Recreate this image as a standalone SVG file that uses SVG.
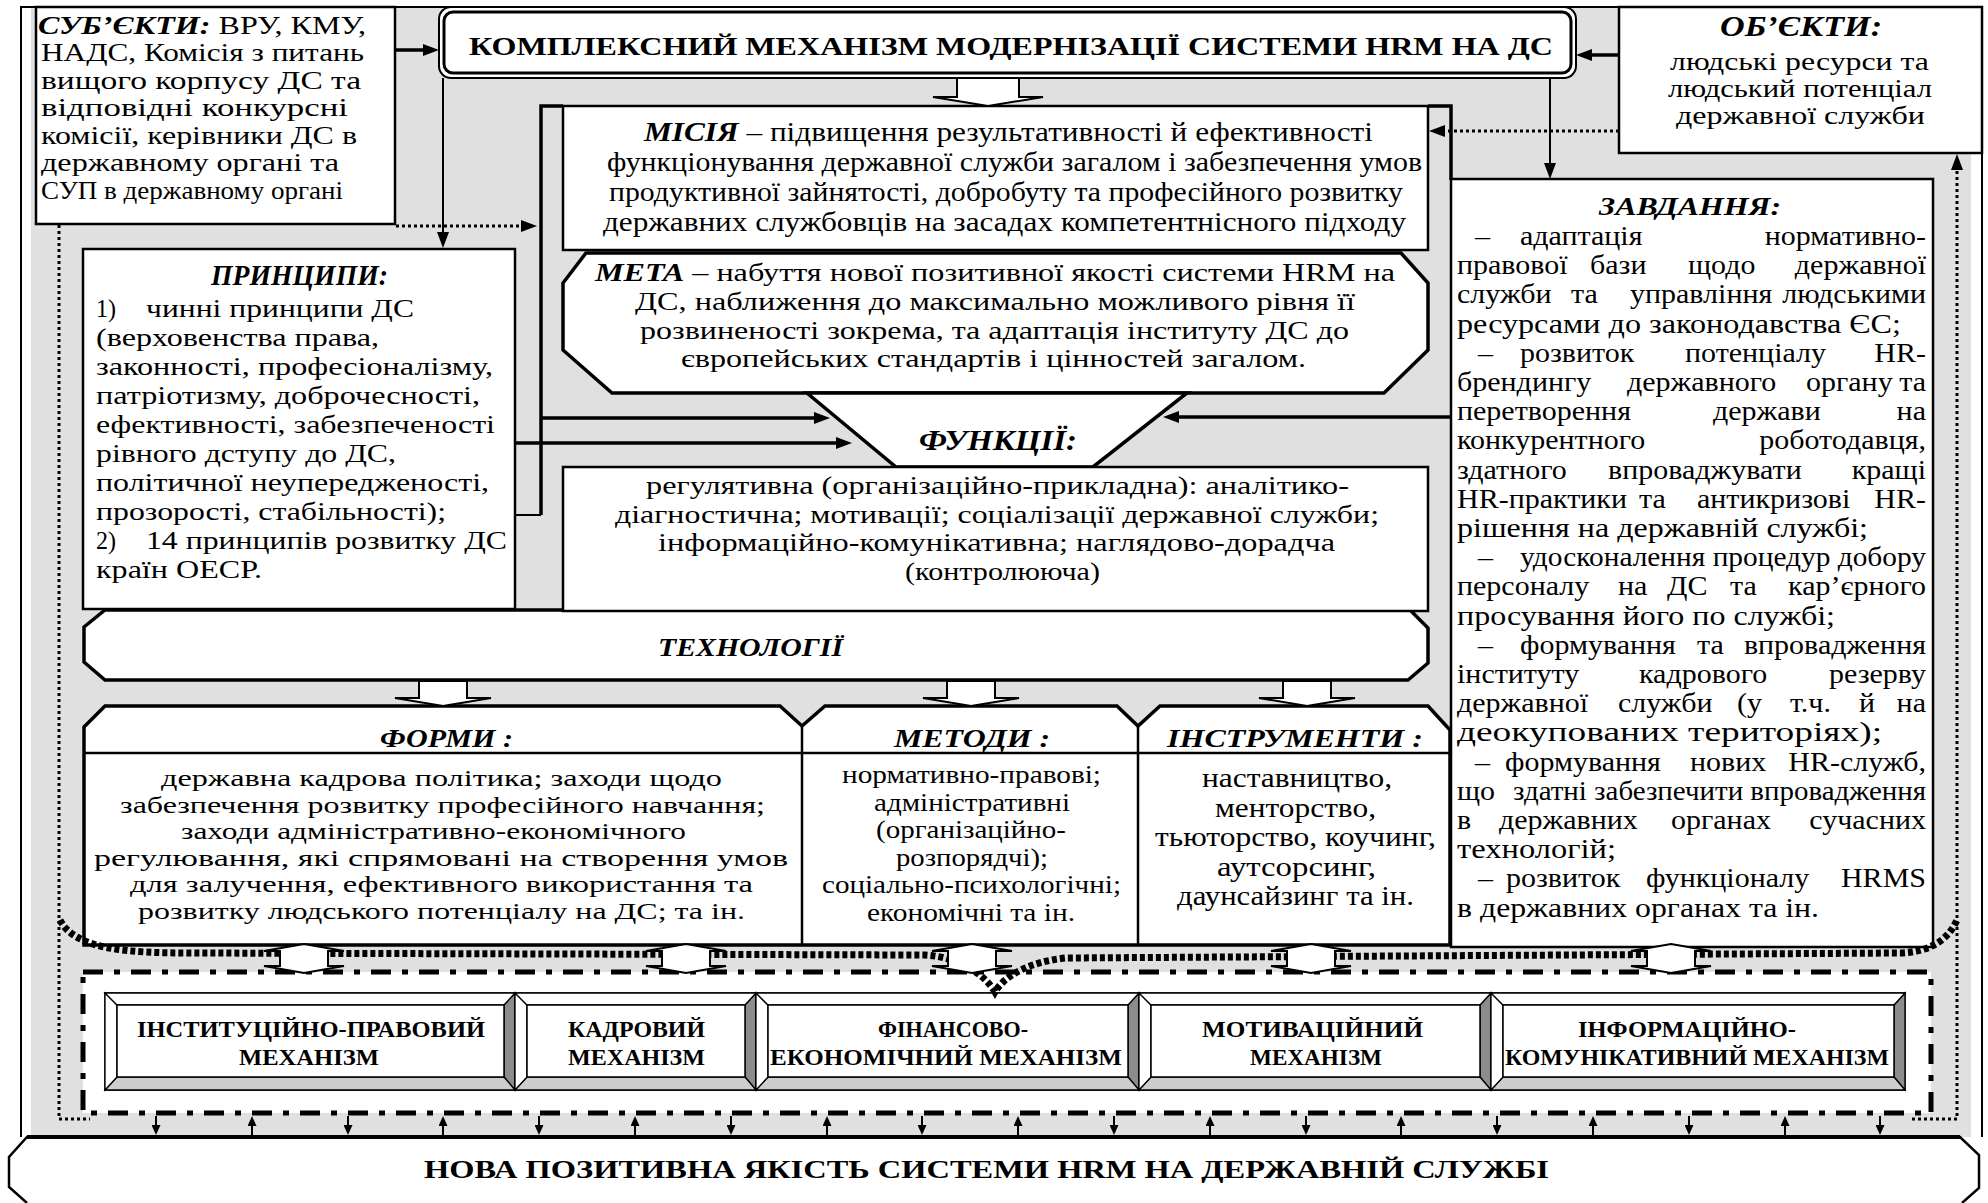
<svg xmlns="http://www.w3.org/2000/svg" width="1988" height="1203" viewBox="0 0 1988 1203">
<defs>
<style>
text{font-family:"Liberation Serif","Times New Roman",serif;font-size:26px;fill:#000}
.b{font-weight:700}
.bi{font-weight:700;font-style:italic}
.hd{font-size:30px;font-weight:700;font-style:italic}
.sb{font-size:24.8px}
.ms{font-size:27px}
.mt{font-size:26px}
.fn{font-size:25.9px}
.pr{font-size:26px}
.zv{font-size:26.3px}
.fm{font-size:23.9px}
.md{font-size:24.8px}
.in{font-size:26.6px}
.k{font-size:24px;font-weight:700}
.box{fill:#fff;stroke:#000;stroke-width:2.5}
.hv{fill:#fff;stroke:#000;stroke-width:3.5;stroke-linejoin:miter}
.ln{fill:none;stroke:#000;stroke-width:3.5}
.sep{fill:none;stroke:#000;stroke-width:2.5}
.th{fill:none;stroke:#000;stroke-width:2}
.dt{fill:none;stroke:#000;stroke-width:3;stroke-dasharray:3 3}
.bd{fill:none;stroke:#000;stroke-width:7;stroke-dasharray:5 3}
.ba{fill:#fff;stroke:#000;stroke-width:2;stroke-linejoin:miter}
.sa{fill:none;stroke:#000;stroke-width:2}
.bv{stroke:#000;stroke-width:1.3}
.face{fill:#fff;stroke:#000;stroke-width:1.5}
</style>
<marker id="ah" markerUnits="userSpaceOnUse" markerWidth="16" markerHeight="12" refX="1" refY="6" orient="auto"><path d="M0,0 L16,6 L0,12 Z" fill="#000"/></marker>
<marker id="as" markerUnits="userSpaceOnUse" markerWidth="10" markerHeight="9" refX="1" refY="4.5" orient="auto"><path d="M0,0 L10,4.5 L0,9 Z" fill="#000"/></marker>
</defs>

<g id="background">
<rect x="0" y="0" width="1988" height="1203" fill="#fff"/>
<rect x="31" y="8" width="1940" height="1129" fill="#e0e0e0"/>
<path d="M21,1137 L21,7 L1982,7 L1982,1137" fill="none" stroke="#000" stroke-width="2"/>
</g>

<g id="technologies">
<path class="hv" d="M105,610 L1410,610 L1428,628 L1428,663 L1408,680 L105,680 L84,662 L84,627 Z"/>
<text class="bi" x="658" y="656" font-size="31" textLength="185" lengthAdjust="spacingAndGlyphs">ТЕХНОЛОГІЇ</text>
</g>

<g id="subjects">
<rect class="box" x="36" y="7" width="359" height="217"/>
<text class="sb" x="38" y="33.5" textLength="328" lengthAdjust="spacingAndGlyphs"><tspan class="bi">СУБ’ЄКТИ:</tspan> ВРУ, КМУ,</text>
<text class="sb" x="41" y="61" textLength="323" lengthAdjust="spacingAndGlyphs">НАДС, Комісія з питань</text>
<text class="sb" x="41" y="88.5" textLength="320" lengthAdjust="spacingAndGlyphs">вищого корпусу ДС та</text>
<text class="sb" x="41" y="116" textLength="307" lengthAdjust="spacingAndGlyphs">відповідні конкурсні</text>
<text class="sb" x="41" y="143.5" textLength="316" lengthAdjust="spacingAndGlyphs">комісії, керівники ДС в</text>
<text class="sb" x="41" y="171" textLength="298" lengthAdjust="spacingAndGlyphs">державному органі та</text>
<text class="sb" x="41" y="198.5" textLength="302" lengthAdjust="spacingAndGlyphs">СУП в державному органі</text>
</g>

<g id="objects">
<rect class="box" x="1619" y="7" width="363" height="146"/>
<text class="hd" x="1720" y="36" textLength="162" lengthAdjust="spacingAndGlyphs">ОБ’ЄКТИ:</text>
<text class="sb" x="1670" y="70" textLength="259" lengthAdjust="spacingAndGlyphs">людські ресурси та</text>
<text class="sb" x="1668" y="97" textLength="264" lengthAdjust="spacingAndGlyphs">людський потенціал</text>
<text class="sb" x="1676" y="124" textLength="249" lengthAdjust="spacingAndGlyphs">державної служби</text>
</g>

<g id="title">
<rect x="439" y="7" width="1137" height="71" rx="12" fill="#fff" stroke="#000" stroke-width="2"/>
<rect x="444" y="12" width="1127" height="61" rx="9" fill="#fff" stroke="#000" stroke-width="3"/>
<text class="b" x="469" y="55" font-size="31" textLength="1084" lengthAdjust="spacingAndGlyphs">КОМПЛЕКСНИЙ МЕХАНІЗМ МОДЕРНІЗАЦІЇ СИСТЕМИ HRM НА ДС</text>
</g>

<g id="mission">
<rect class="box" x="563" y="106" width="865" height="144"/>
<text class="ms" x="644" y="141" textLength="729" lengthAdjust="spacingAndGlyphs"><tspan class="bi">МІСІЯ</tspan> – підвищення результативності й ефективності</text>
<text class="ms" x="607" y="171" textLength="815" lengthAdjust="spacingAndGlyphs">функціонування державної служби загалом і забезпечення умов</text>
<text class="ms" x="609" y="201" textLength="794" lengthAdjust="spacingAndGlyphs">продуктивної зайнятості, добробуту та професійного розвитку</text>
<text class="ms" x="603" y="231" textLength="803" lengthAdjust="spacingAndGlyphs">державних службовців на засадах компетентнісного підходу</text>
</g>

<g id="goal">
<path class="hv" d="M586,253 L1401,253 L1428,283 L1428,350 L1384,393 L612,393 L563,350 L563,283 Z"/>
<text class="mt" x="595" y="281" textLength="800" lengthAdjust="spacingAndGlyphs"><tspan class="bi">МЕТА</tspan> – набуття нової позитивної якості системи HRM на</text>
<text class="mt" x="635" y="310" textLength="720" lengthAdjust="spacingAndGlyphs">ДС, наближення до максимально можливого рівня її</text>
<text class="mt" x="640" y="339" textLength="709" lengthAdjust="spacingAndGlyphs">розвиненості зокрема, та адаптація інституту ДС до</text>
<text class="mt" x="681" y="367" textLength="625" lengthAdjust="spacingAndGlyphs">європейських стандартів і цінностей загалом.</text>
</g>

<g id="functions">
<path class="hv" d="M807,393 L1187,393 L1093,467 L896,467 Z"/>
<text class="hd" x="919" y="450" textLength="158" lengthAdjust="spacingAndGlyphs">ФУНКЦІЇ:</text>
<rect class="box" x="563" y="467" width="865" height="144"/>
<text class="fn" x="646" y="494" textLength="703" lengthAdjust="spacingAndGlyphs">регулятивна (організаційно-прикладна): аналітико-</text>
<text class="fn" x="615" y="522.5" textLength="764" lengthAdjust="spacingAndGlyphs">діагностична; мотивації; соціалізації державної служби;</text>
<text class="fn" x="658" y="551" textLength="677" lengthAdjust="spacingAndGlyphs">інформаційно-комунікативна; наглядово-дорадча</text>
<text class="fn" x="905" y="580" textLength="195" lengthAdjust="spacingAndGlyphs">(контролююча)</text>
</g>

<g id="principles">
<rect class="box" x="83" y="249" width="432" height="360"/>
<text class="hd" x="211" y="285" textLength="177" lengthAdjust="spacingAndGlyphs">ПРИНЦИПИ:</text>
<text class="pr" x="96" y="317" textLength="20" lengthAdjust="spacingAndGlyphs">1)</text>
<text class="pr" x="146" y="317" textLength="268" lengthAdjust="spacingAndGlyphs">чинні принципи ДС</text>
<text class="pr" x="96" y="346" textLength="283" lengthAdjust="spacingAndGlyphs">(верховенства права,</text>
<text class="pr" x="96" y="375" textLength="397" lengthAdjust="spacingAndGlyphs">законності, професіоналізму,</text>
<text class="pr" x="96" y="404" textLength="384" lengthAdjust="spacingAndGlyphs">патріотизму, доброчесності,</text>
<text class="pr" x="96" y="433" textLength="399" lengthAdjust="spacingAndGlyphs">ефективності, забезпеченості</text>
<text class="pr" x="96" y="462" textLength="300" lengthAdjust="spacingAndGlyphs">рівного дступу до ДС,</text>
<text class="pr" x="96" y="491" textLength="393" lengthAdjust="spacingAndGlyphs">політичної неупередженості,</text>
<text class="pr" x="96" y="520" textLength="350" lengthAdjust="spacingAndGlyphs">прозорості, стабільності);</text>
<text class="pr" x="96" y="549" textLength="20" lengthAdjust="spacingAndGlyphs">2)</text>
<text class="pr" x="146" y="549" textLength="361" lengthAdjust="spacingAndGlyphs">14 принципів розвитку ДС</text>
<text class="pr" x="96" y="578" textLength="166" lengthAdjust="spacingAndGlyphs">країн ОЕСР.</text>
</g>

<g id="tasks">
<rect class="box" x="1451" y="179" width="482" height="768"/>
<text class="bi" x="1599" y="215" font-size="31" textLength="182" lengthAdjust="spacingAndGlyphs">ЗАВДАННЯ:</text>
<g transform="matrix(1.1407 0 0 1 1457 0)">
<text class="zv" y="245"><tspan x="15.78">–</tspan><tspan x="55.23">адаптація</tspan><tspan x="411.15" text-anchor="end">нормативно-</tspan></text>
<text class="zv" y="274.2"><tspan x="0">правової</tspan><tspan x="116.6">бази</tspan><tspan x="202.5">щодо</tspan><tspan x="411.15" text-anchor="end">державної</tspan></text>
<text class="zv" y="303.4"><tspan x="0">служби</tspan><tspan x="99.94">та</tspan><tspan x="151.66">управління</tspan><tspan x="411.15" text-anchor="end">людськими</tspan></text>
<text class="zv" x="0" y="332.6" textLength="389.2" lengthAdjust="spacingAndGlyphs">ресурсами до законодавства ЄС;</text>
<text class="zv" y="361.8"><tspan x="18.41">–</tspan><tspan x="55.23">розвиток</tspan><tspan x="199.88">потенціалу</tspan><tspan x="411.15" text-anchor="end">HR-</tspan></text>
<text class="zv" y="391"><tspan x="0">брендингу</tspan><tspan x="149.03">державного</tspan><tspan x="305.95">органу</tspan><tspan x="411.15" text-anchor="end">та</tspan></text>
<text class="zv" y="420.2"><tspan x="0">перетворення</tspan><tspan x="224.42">держави</tspan><tspan x="411.15" text-anchor="end">на</tspan></text>
<text class="zv" y="449.4"><tspan x="0">конкурентного</tspan><tspan x="411.15" text-anchor="end">роботодавця,</tspan></text>
<text class="zv" y="478.6"><tspan x="0">здатного</tspan><tspan x="132.37">впроваджувати</tspan><tspan x="411.15" text-anchor="end">кращі</tspan></text>
<text class="zv" y="507.8"><tspan x="0">HR-практики</tspan><tspan x="159.55">та</tspan><tspan x="210.4">антикризові</tspan><tspan x="411.15" text-anchor="end">HR-</tspan></text>
<text class="zv" x="0" y="537" textLength="360.3" lengthAdjust="spacingAndGlyphs">рішення на державній службі;</text>
<text class="zv" x="18.41" y="566.2">–</text>
<text class="zv" x="55.23" y="566.2" textLength="355.9" lengthAdjust="spacingAndGlyphs">удосконалення процедур добору</text>
<text class="zv" y="595.4"><tspan x="0">персоналу</tspan><tspan x="141.14">на</tspan><tspan x="184.1">ДС</tspan><tspan x="239.33">та</tspan><tspan x="411.15" text-anchor="end">кар’єрного</tspan></text>
<text class="zv" x="0" y="624.6" textLength="331.4" lengthAdjust="spacingAndGlyphs">просування його по службі;</text>
<text class="zv" y="653.8"><tspan x="18.41">–</tspan><tspan x="55.23">формування</tspan><tspan x="210.4">та</tspan><tspan x="411.15" text-anchor="end">впровадження</tspan></text>
<text class="zv" y="683"><tspan x="0">інституту</tspan><tspan x="159.55">кадрового</tspan><tspan x="411.15" text-anchor="end">резерву</tspan></text>
<text class="zv" y="712.2"><tspan x="0">державної</tspan><tspan x="141.14">служби</tspan><tspan x="245.46">(у</tspan><tspan x="291.93">т.ч.</tspan><tspan x="352.42">й</tspan><tspan x="411.15" text-anchor="end">на</tspan></text>
<text class="zv" x="0" y="741.4" textLength="372.6" lengthAdjust="spacingAndGlyphs">деокупованих територіях);</text>
<text class="zv" y="770.6"><tspan x="15.78">–</tspan><tspan x="42.08">формування</tspan><tspan x="204.26">нових</tspan><tspan x="411.15" text-anchor="end">HR-служб,</tspan></text>
<text class="zv" x="0" y="799.8">що</text>
<text class="zv" x="49.09" y="799.8" textLength="362.1" lengthAdjust="spacingAndGlyphs">здатні забезпечити впровадження</text>
<text class="zv" y="829"><tspan x="0">в</tspan><tspan x="36.82">державних</tspan><tspan x="187.6">органах</tspan><tspan x="411.15" text-anchor="end">сучасних</tspan></text>
<text class="zv" x="0" y="858.2" textLength="139.4" lengthAdjust="spacingAndGlyphs">технологій;</text>
<text class="zv" y="887.4"><tspan x="18.41">–</tspan><tspan x="42.96">розвиток</tspan><tspan x="165.69">функціоналу</tspan><tspan x="411.15" text-anchor="end">HRMS</tspan></text>
<text class="zv" x="0" y="916.6" textLength="317.4" lengthAdjust="spacingAndGlyphs">в державних органах та ін.</text>
</g>
</g>

<g id="forms-methods-tools">
<path class="hv" d="M84,945 L84,727 L105,706 L780,706 L802,726 L825,706 L1117,706 L1138,726 L1160,706 L1428,706 L1450,730 L1450,945 Z"/>
<path class="sep" d="M84,753 L1450,753 M802,726 L802,945 M1138,726 L1138,945"/>
<text class="bi" x="380" y="747" font-size="30" textLength="133" lengthAdjust="spacingAndGlyphs">ФОРМИ :</text>
<text class="bi" x="894" y="747" font-size="30" textLength="156" lengthAdjust="spacingAndGlyphs">МЕТОДИ :</text>
<text class="bi" x="1167" y="747" font-size="30" textLength="256" lengthAdjust="spacingAndGlyphs">ІНСТРУМЕНТИ :</text>
<text class="fm" x="161" y="786" textLength="561" lengthAdjust="spacingAndGlyphs">державна кадрова політика; заходи щодо</text>
<text class="fm" x="120" y="812.5" textLength="645" lengthAdjust="spacingAndGlyphs">забезпечення розвитку професійного навчання;</text>
<text class="fm" x="181" y="839" textLength="505" lengthAdjust="spacingAndGlyphs">заходи адміністративно-економічного</text>
<text class="fm" x="94" y="865.5" textLength="694" lengthAdjust="spacingAndGlyphs">регулювання, які спрямовані на створення умов</text>
<text class="fm" x="130" y="892" textLength="623" lengthAdjust="spacingAndGlyphs">для залучення, ефективного використання та</text>
<text class="fm" x="138" y="918.5" textLength="607" lengthAdjust="spacingAndGlyphs">розвитку людського потенціалу на ДС; та ін.</text>
<text class="md" x="842" y="783" textLength="259" lengthAdjust="spacingAndGlyphs">нормативно-правові;</text>
<text class="md" x="874" y="810.5" textLength="196" lengthAdjust="spacingAndGlyphs">адміністративні</text>
<text class="md" x="876" y="838" textLength="190" lengthAdjust="spacingAndGlyphs">(організаційно-</text>
<text class="md" x="896" y="865.5" textLength="152" lengthAdjust="spacingAndGlyphs">розпорядчі);</text>
<text class="md" x="822" y="893" textLength="299" lengthAdjust="spacingAndGlyphs">соціально-психологічні;</text>
<text class="md" x="867" y="920.5" textLength="208" lengthAdjust="spacingAndGlyphs">економічні та ін.</text>
<text class="in" x="1202" y="787" textLength="190" lengthAdjust="spacingAndGlyphs">наставництво,</text>
<text class="in" x="1215" y="816.5" textLength="161" lengthAdjust="spacingAndGlyphs">менторство,</text>
<text class="in" x="1155" y="846" textLength="281" lengthAdjust="spacingAndGlyphs">тьюторство, коучинг,</text>
<text class="in" x="1217" y="875.5" textLength="159" lengthAdjust="spacingAndGlyphs">аутсорсинг,</text>
<text class="in" x="1177" y="905" textLength="237" lengthAdjust="spacingAndGlyphs">даунсайзинг та ін.</text>
</g>

<g id="mechanisms">
<rect x="83" y="972" width="1848" height="141" fill="#fff" stroke="#000" stroke-width="5" stroke-dasharray="20 11 6 11"/>
<g id="mech-1">
<rect class="face" x="105" y="993" width="410" height="97"/>
<polygon class="bv" fill="#8c8c8c" points="504,1005 515,993 515,1090 504,1077"/>
<polygon class="bv" fill="#cdcdcd" points="117,1077 504,1077 515,1090 105,1090"/>
<polygon class="bv" fill="#fff" points="105,993 117,1005 117,1077 105,1090"/>
<polygon class="bv" fill="#fff" points="105,993 515,993 504,1005 117,1005"/>
<rect class="face" x="117" y="1005" width="387" height="72"/>
<text class="k" x="137" y="1037" textLength="348" lengthAdjust="spacingAndGlyphs">ІНСТИТУЦІЙНО-ПРАВОВИЙ</text>
<text class="k" x="239" y="1065" textLength="140" lengthAdjust="spacingAndGlyphs">МЕХАНІЗМ</text>
</g>
<g id="mech-2">
<rect class="face" x="515" y="993" width="241" height="97"/>
<polygon class="bv" fill="#8c8c8c" points="745,1005 756,993 756,1090 745,1077"/>
<polygon class="bv" fill="#cdcdcd" points="527,1077 745,1077 756,1090 515,1090"/>
<polygon class="bv" fill="#fff" points="515,993 527,1005 527,1077 515,1090"/>
<polygon class="bv" fill="#fff" points="515,993 756,993 745,1005 527,1005"/>
<rect class="face" x="527" y="1005" width="218" height="72"/>
<text class="k" x="568" y="1037" textLength="137" lengthAdjust="spacingAndGlyphs">КАДРОВИЙ</text>
<text class="k" x="568" y="1065" textLength="137" lengthAdjust="spacingAndGlyphs">МЕХАНІЗМ</text>
</g>
<g id="mech-3">
<rect class="face" x="756" y="993" width="383" height="97"/>
<polygon class="bv" fill="#8c8c8c" points="1128,1005 1139,993 1139,1090 1128,1077"/>
<polygon class="bv" fill="#cdcdcd" points="768,1077 1128,1077 1139,1090 756,1090"/>
<polygon class="bv" fill="#fff" points="756,993 768,1005 768,1077 756,1090"/>
<polygon class="bv" fill="#fff" points="756,993 1139,993 1128,1005 768,1005"/>
<rect class="face" x="768" y="1005" width="360" height="72"/>
<text class="k" x="878" y="1037" textLength="150" lengthAdjust="spacingAndGlyphs">ФІНАНСОВО-</text>
<text class="k" x="770" y="1065" textLength="352" lengthAdjust="spacingAndGlyphs">ЕКОНОМІЧНИЙ МЕХАНІЗМ</text>
</g>
<g id="mech-4">
<rect class="face" x="1139" y="993" width="352" height="97"/>
<polygon class="bv" fill="#8c8c8c" points="1480,1005 1491,993 1491,1090 1480,1077"/>
<polygon class="bv" fill="#cdcdcd" points="1151,1077 1480,1077 1491,1090 1139,1090"/>
<polygon class="bv" fill="#fff" points="1139,993 1151,1005 1151,1077 1139,1090"/>
<polygon class="bv" fill="#fff" points="1139,993 1491,993 1480,1005 1151,1005"/>
<rect class="face" x="1151" y="1005" width="329" height="72"/>
<text class="k" x="1202" y="1037" textLength="221" lengthAdjust="spacingAndGlyphs">МОТИВАЦІЙНИЙ</text>
<text class="k" x="1250" y="1065" textLength="132" lengthAdjust="spacingAndGlyphs">МЕХАНІЗМ</text>
</g>
<g id="mech-5">
<rect class="face" x="1491" y="993" width="414" height="97"/>
<polygon class="bv" fill="#8c8c8c" points="1894,1005 1905,993 1905,1090 1894,1077"/>
<polygon class="bv" fill="#cdcdcd" points="1503,1077 1894,1077 1905,1090 1491,1090"/>
<polygon class="bv" fill="#fff" points="1491,993 1503,1005 1503,1077 1491,1090"/>
<polygon class="bv" fill="#fff" points="1491,993 1905,993 1894,1005 1503,1005"/>
<rect class="face" x="1503" y="1005" width="391" height="72"/>
<text class="k" x="1578" y="1037" textLength="218" lengthAdjust="spacingAndGlyphs">ІНФОРМАЦІЙНО-</text>
<text class="k" x="1505" y="1065" textLength="384" lengthAdjust="spacingAndGlyphs">КОМУНІКАТИВНИЙ МЕХАНІЗМ</text>
</g>
</g>

<g id="result">
<path d="M27,1203 L9,1187 L9,1157 L27,1137 L1960,1137 L1979,1155 L1979,1188 L1962,1203" fill="#fff" stroke="#000" stroke-width="2.5"/>
<path d="M27,1137 L1960,1137" stroke="#000" stroke-width="4" fill="none"/>
<text class="b" x="424" y="1178" font-size="29" textLength="1125" lengthAdjust="spacingAndGlyphs">НОВА ПОЗИТИВНА ЯКІСТЬ СИСТЕМИ HRM НА ДЕРЖАВНІЙ СЛУЖБІ</text>
</g>

<g id="connectors">
<path class="ln" d="M395,50 L424,50" marker-end="url(#ah)"/>
<path class="ln" d="M1619,55 L1591,55" marker-end="url(#ah)"/>
<path class="th" d="M443,78 L443,233" marker-end="url(#ah)"/>
<path class="th" d="M1550,78 L1550,164" marker-end="url(#ah)"/>
<path class="dt" d="M396,226 L522,226" marker-end="url(#ah)"/>
<path class="dt" d="M1619,131 L1444,131" marker-end="url(#ah)"/>
<path class="dt" d="M59,225 L59,1119 L90,1119"/>
<path class="dt" d="M1912,1119 L1957,1119 L1957,169" marker-end="url(#ah)"/>
<path class="ln" d="M563,106 L541,106 L541,515"/>
<path class="th" d="M541,515 L516,515"/>
<path class="ln" d="M541,418 L815,418" marker-end="url(#ah)"/>
<path class="ln" d="M516,443 L837,443" marker-end="url(#ah)"/>
<path class="ln" d="M1428,106 L1451,106 L1451,180"/>
<path class="ln" d="M1452,417 L1178,417" marker-end="url(#ah)"/>
<polygon class="ba" points="957,78 1019,78 1019,97 1043,97 988,106 933,97 957,97"/>
<polygon class="ba" points="419,681 467,681 467,698 491,698 443,706 395,698 419,698"/>
<polygon class="ba" points="947,681 995,681 995,698 1019,698 971,706 923,698 947,698"/>
<polygon class="ba" points="1283,681 1331,681 1331,698 1355,698 1307,706 1259,698 1283,698"/>
<path class="bd" d="M60,920 C75,950 130,953 190,953 L925,955 C960,957 985,975 995,992 C1005,975 1030,962 1065,958 L1900,953 C1930,952 1948,940 1957,920"/>
<polygon class="ba" points="304,944 344,951 328,951 328,966 344,966 304,973 264,966 280,966 280,951 264,951"/>
<polygon class="ba" points="686,944 726,951 710,951 710,966 726,966 686,973 646,966 662,966 662,951 646,951"/>
<polygon class="ba" points="972,944 1012,951 996,951 996,966 1012,966 972,973 932,966 948,966 948,951 932,951"/>
<polygon class="ba" points="1311,944 1351,951 1335,951 1335,966 1351,966 1311,973 1271,966 1287,966 1287,951 1271,951"/>
<polygon class="ba" points="1671,944 1711,951 1695,951 1695,966 1711,966 1671,973 1631,966 1647,966 1647,951 1631,951"/>
<path class="sa" d="M156,1116 L156,1126" marker-end="url(#as)"/>
<path class="sa" d="M252,1135 L252,1125" marker-end="url(#as)"/>
<path class="sa" d="M348,1116 L348,1126" marker-end="url(#as)"/>
<path class="sa" d="M443,1135 L443,1125" marker-end="url(#as)"/>
<path class="sa" d="M539,1116 L539,1126" marker-end="url(#as)"/>
<path class="sa" d="M635,1135 L635,1125" marker-end="url(#as)"/>
<path class="sa" d="M731,1116 L731,1126" marker-end="url(#as)"/>
<path class="sa" d="M827,1135 L827,1125" marker-end="url(#as)"/>
<path class="sa" d="M922,1116 L922,1126" marker-end="url(#as)"/>
<path class="sa" d="M1018,1135 L1018,1125" marker-end="url(#as)"/>
<path class="sa" d="M1114,1116 L1114,1126" marker-end="url(#as)"/>
<path class="sa" d="M1210,1135 L1210,1125" marker-end="url(#as)"/>
<path class="sa" d="M1306,1116 L1306,1126" marker-end="url(#as)"/>
<path class="sa" d="M1401,1135 L1401,1125" marker-end="url(#as)"/>
<path class="sa" d="M1497,1116 L1497,1126" marker-end="url(#as)"/>
<path class="sa" d="M1593,1135 L1593,1125" marker-end="url(#as)"/>
<path class="sa" d="M1689,1116 L1689,1126" marker-end="url(#as)"/>
<path class="sa" d="M1785,1135 L1785,1125" marker-end="url(#as)"/>
<path class="sa" d="M1880,1116 L1880,1126" marker-end="url(#as)"/>
</g>
</svg>
